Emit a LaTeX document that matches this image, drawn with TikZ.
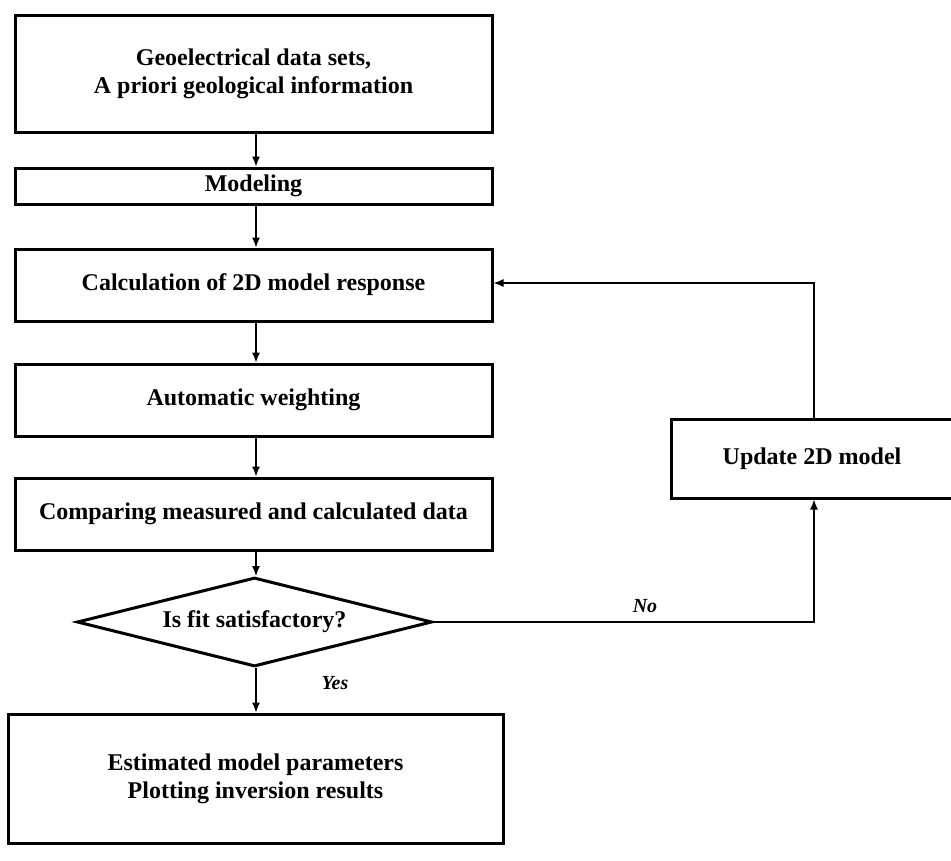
\documentclass[tikz,border=0pt]{standalone}
\usepackage{fontspec}
\setmainfont{Liberation Serif}
\usetikzlibrary{arrows.meta}
\usetikzlibrary{shapes.geometric}
\tikzset{>={Latex[width=8pt,length=10pt]}}
\tikzset{
  procbox/.style={draw, line width=3pt, align=center, inner sep=0pt,
    font=\bfseries\fontsize{24}{28}\selectfont},
  decision/.style={procbox, diamond, aspect=4},
  flow/.style={->, line width=1.3pt},
  answer/.style={font=\bfseries\itshape\fontsize{20}{23}\selectfont}
}

\begin{document}
\begin{tikzpicture}[x=1pt, y=-1pt]

  \useasboundingbox (0,0) rectangle (951,860);

  % main column
  \node[procbox, minimum width=477pt, minimum height=117pt] (data) at (253.5,73.5)
    {Geoelectrical data sets,\\A priori geological information};
  \node[procbox, minimum width=477pt, minimum height=36pt] (model) at (253.5,186) {Modeling};
  \node[procbox, minimum width=477pt, minimum height=72pt] (calc) at (253.5,285) {Calculation of 2D model response};
  \node[procbox, minimum width=477pt, minimum height=72pt] (weight) at (253.5,400) {Automatic weighting};
  \node[procbox, minimum width=477pt, minimum height=72pt] (compare) at (253.5,514) {Comparing measured and calculated data};
  \node[decision, minimum width=355pt, minimum height=89pt] (fit) at (254.5,622) {Is fit satisfactory?};
  \node[procbox, minimum width=495pt, minimum height=129pt] (result) at (255.5,778.5)
    {Estimated model parameters\\Plotting inversion results};

  % feedback loop
  \node[procbox, minimum width=282pt, minimum height=79pt] (update) at (812,458.5) {Update 2D model};

  \node[answer] (yes) at (335,683) {Yes};
  \node[answer] (no) at (645,606) {No};

  \draw[flow] ([xshift=2.5pt]data.south) -- ([xshift=2.5pt]model.north);
  \draw[flow] ([xshift=2.5pt]model.south) -- ([xshift=2.5pt]calc.north);
  \draw[flow] ([xshift=2.5pt]calc.south) -- ([xshift=2.5pt]weight.north);
  \draw[flow] ([xshift=2.5pt]weight.south) -- ([xshift=2.5pt]compare.north);
  \draw[flow] ([xshift=2.5pt]compare.south) -- ([xshift=1.5pt]fit.north);
  \draw[flow] ([xshift=1.5pt]fit.south) -- ([xshift=0.5pt]result.north);
  \draw[flow] (fit.east) -| ([xshift=2pt]update.south);
  \draw[flow] ([xshift=2pt]update.north) |- ([yshift=2pt]calc.east);

\end{tikzpicture}
\end{document}
